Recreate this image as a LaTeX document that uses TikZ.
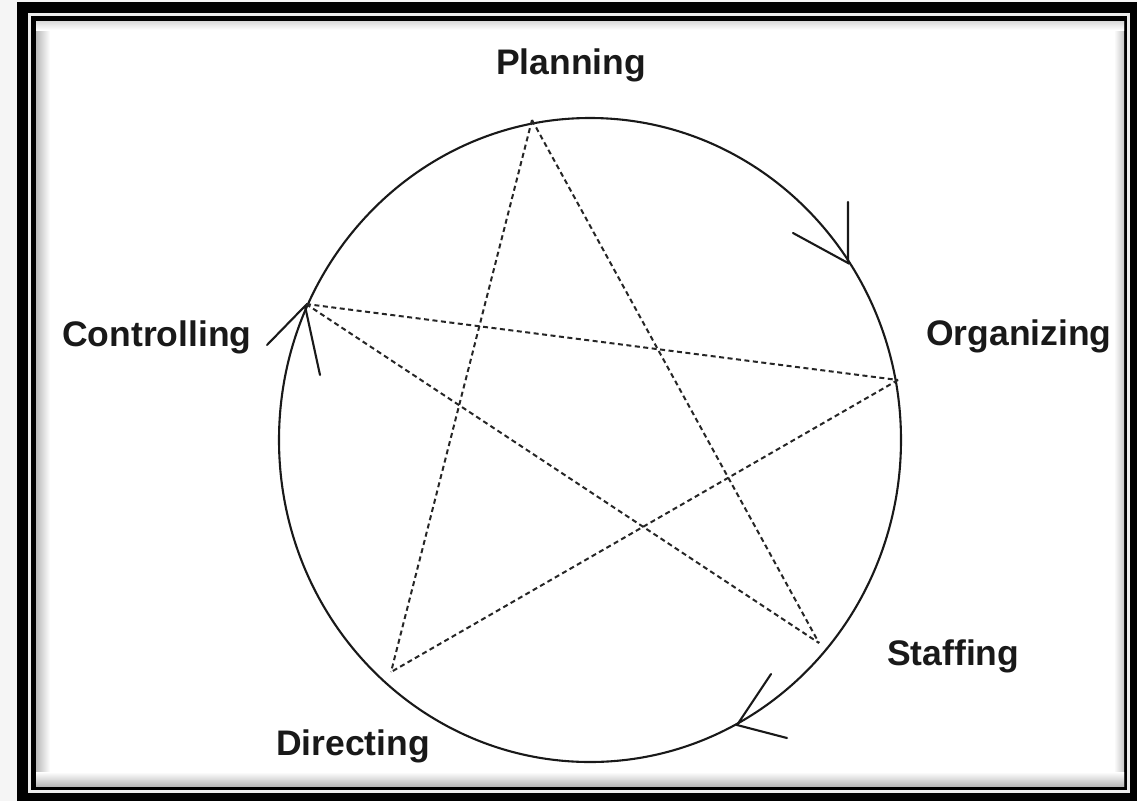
\documentclass[tikz,border=0pt]{standalone}
\usepackage{fontspec}
\setmainfont{Liberation Sans}
\usepackage{xcolor}

\begin{document}
\begin{tikzpicture}[
  x=1pt, y=-1pt,
  label/.style={anchor=base west,inner sep=0pt,font=\fontsize{35.5}{40}\selectfont\bfseries,text=black!90},
  ring/.style={draw=black!90,line width=2.1pt},
  link/.style={draw=black!85,line width=2pt,dash pattern=on 5pt off 3.5pt},
  tick/.style={draw=black!90,line width=2.1pt,line cap=round}
]
  \useasboundingbox (0,0) rectangle (1137,801);
  \fill[gray!8] (0,0) rectangle (1137,801);
  % frame
  \fill[black] (17,2) rectangle (1137,801);
  \fill[gray!15] (28,13) rectangle (1130,793);
  \fill[black] (31,16) rectangle (1127,790);
  \fill[white] (36,21) rectangle (1124,786);
  \shade[left color=gray!55,right color=white] (36,21) rectangle (50,786);
  \shade[left color=white,right color=gray!45] (1114,21) rectangle (1124,786);
  \shade[top color=white,bottom color=gray!55] (36,772) rectangle (1124,786);
  \shade[top color=gray!30,bottom color=white] (36,21) rectangle (1124,30);
  % cycle
  \draw[ring] (590,440) ellipse [x radius=311,y radius=322];
  \coordinate (plan) at (532,120);
  \coordinate (org) at (898,380);
  \coordinate (staff) at (819,643);
  \coordinate (dir) at (391,672);
  \coordinate (ctrl) at (306,304);
  \node[label] (lplan) at (496,74) {Planning};
  \node[label] (lorg) at (926,345) {Organizing};
  \node[label] (lstaff) at (887,665) {Staffing};
  \node[label] (ldir) at (276,755) {Directing};
  \node[label] (lctrl) at (62,346) {Controlling};
  \draw[link] (plan) -- (staff);
  \draw[link] (plan) -- (dir);
  \draw[link] (ctrl) -- (org);
  \draw[link] (ctrl) -- (staff);
  \draw[link] (org) -- (dir);
  % arrow heads on the ring
  \coordinate (a1) at (848,263);
  \coordinate (a1l) at (848,202);
  \coordinate (a1r) at (793,233);
  \coordinate (a2) at (737,725);
  \coordinate (a2l) at (771,674);
  \coordinate (a2r) at (787,738);
  \coordinate (a3) at (305,306);
  \coordinate (a3l) at (267,345);
  \coordinate (a3r) at (320,375);
  \draw[tick] (a1l) -- (a1) -- (a1r);
  \draw[tick] (a2l) -- (a2) -- (a2r);
  \draw[tick] (a3l) -- (a3) -- (a3r);
\end{tikzpicture}
\end{document}
